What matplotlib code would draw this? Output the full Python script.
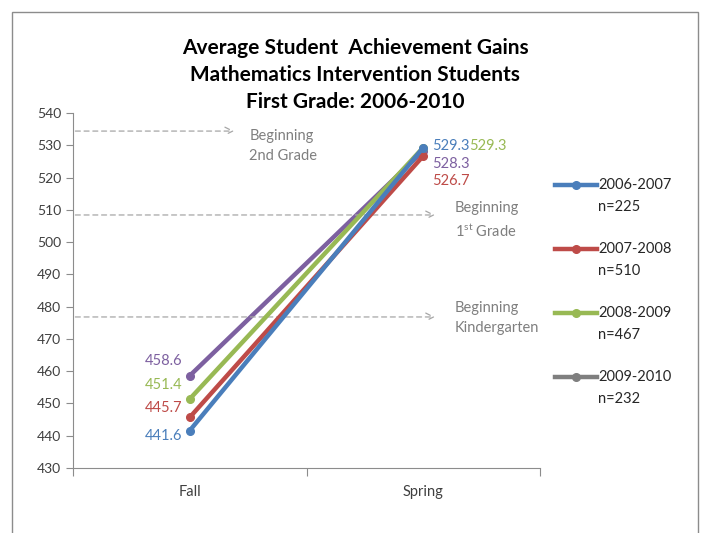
import matplotlib
matplotlib.use("Agg")
import matplotlib.pyplot as plt
from matplotlib.lines import Line2D
from matplotlib.patches import Rectangle

plt.rcParams['font.family'] = ['Lato', 'DejaVu Sans']

categories = ["Fall", "Spring"]
series_names = ["2006-2007", "2007-2008", "2008-2009", "2009-2010"]
series_n = ["n=225", "n=510", "n=467", "n=232"]
fall_values = [441.6, 445.7, 451.4, 458.6]
spring_values = [529.3, 526.7, 529.3, 528.3]
line_colors = ["#4A7EBB", "#BE4B48", "#98B954", "#7D60A0"]
legend_colors = ["#4A7EBB", "#BE4B48", "#98B954", "#7F7F7F"]
ref_levels = [534.4, 508.4, 476.8]
ref_labels = ["Beginning\n2nd Grade", "Beginning\n$\\mathregular{1^{st}}$ Grade", "Beginning\nKindergarten"]
y_ticks = list(range(430, 541, 10))

W, H = 703, 533
fig = plt.figure(figsize=(7.03, 5.33), dpi=100)
fig.patches.append(Rectangle((12/W, -0.01), 686/W, 1 - 12/H + 0.01, transform=fig.transFigure,
                             fill=False, edgecolor="#8C8C8C", linewidth=1.0))
ax = fig.add_axes([73/W, 1 - 468/H, 467/W, 355/H])

x = [0, 1]
for i, name in enumerate(series_names):
    ax.plot(x, [fall_values[i], spring_values[i]], color=line_colors[i], lw=3.2,
            marker='o', markersize=5.5, solid_capstyle='round', zorder=3 + (3 - i) * 0.1)

# data labels (positions chosen to avoid overlap, as in the original)
fall_label_y = [439.9, 448.6, 455.7, 463.1]
for i in range(4):
    ax.text(-0.033, fall_label_y[i], f"{fall_values[i]:.1f}", color=line_colors[i],
            ha='right', va='center', fontsize=10.5, zorder=5)
spring_label_y = [529.8, 518.9, 529.8, 524.2]
spring_label_x = [1.04, 1.04, 1.198, 1.04]
for i in range(4):
    ax.text(spring_label_x[i], spring_label_y[i], f"{spring_values[i]:.1f}", color=line_colors[i],
            ha='left', va='center', fontsize=10.5, zorder=5)

# reference arrows
arrow_end = [0.19, 1.05, 1.05]
text_x = [0.255, 1.135, 1.135]
text_dy = [-4.6, -1.6, -0.3]
for lvl, lab, xe, tx, dy in zip(ref_levels, ref_labels, arrow_end, text_x, text_dy):
    ax.annotate("", xy=(xe, lvl), xytext=(-0.49, lvl),
                arrowprops=dict(arrowstyle='->', linestyle=(0, (4, 3)), color="#A6A6A6", lw=0.9,
                                mutation_scale=14, shrinkA=0, shrinkB=0))
    ax.text(tx, lvl + dy, lab, color="#7F7F7F", ha='left', va='center',
            fontsize=10.5, linespacing=1.55)

ax.set_xlim(-0.5, 1.5)
ax.set_ylim(430, 540)
ax.set_yticks(y_ticks)
ax.tick_params(axis='y', labelsize=10, colors="#404040", length=5, direction='out', color="#8C8C8C")
ax.set_xticks([-0.5, 0.5, 1.5])
ax.set_xticklabels([])
ax.set_xticks([0, 1], minor=True)
ax.set_xticklabels(categories, minor=True)
ax.tick_params(axis='x', which='major', length=6, color="#8C8C8C")
ax.tick_params(axis='x', which='minor', length=0, labelsize=10.5, colors="#404040", pad=12)
for s in ['top', 'right']:
    ax.spines[s].set_visible(False)
for s in ['left', 'bottom']:
    ax.spines[s].set_color("#8C8C8C")

fig.text(0.505, 1 - 75/H, "Average Student  Achievement Gains\nMathematics Intervention Students\nFirst Grade: 2006-2010",
         ha='center', va='center', fontsize=15, fontweight='bold', linespacing=1.45)

# legend drawn manually (handle aligned with the first label line)
for i in range(4):
    yy = 1 - (185 + 64 * i) / H
    fig.add_artist(Line2D([555/W, 597/W], [yy, yy], transform=fig.transFigure,
                          color=legend_colors[i], lw=3.2))
    fig.add_artist(Line2D([576/W], [yy], transform=fig.transFigure, color=legend_colors[i],
                          marker='o', markersize=5.5))
    fig.text(598/W, yy, series_names[i], ha='left', va='center', fontsize=10.5, color="#262626")
    fig.text(598/W, yy - 22/H, series_n[i], ha='left', va='center', fontsize=10.5, color="#262626")

fig.savefig("out.png", dpi=100)
